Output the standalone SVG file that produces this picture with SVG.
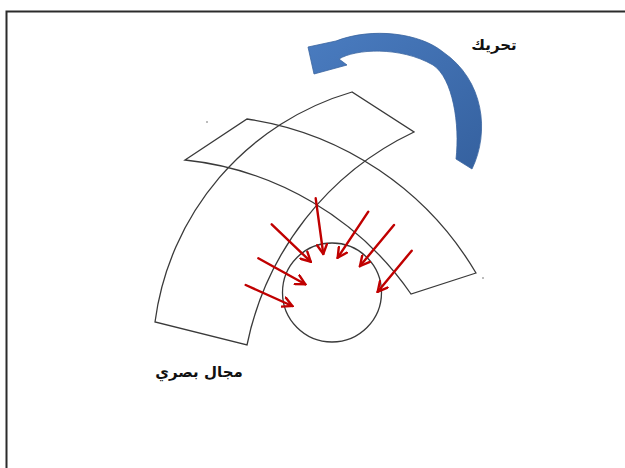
<svg xmlns="http://www.w3.org/2000/svg" width="625" height="468" viewBox="0 0 625 468">
<defs>
<style>
.frame{fill:none;stroke:#2b2b2b;stroke-width:2}
.band{fill:none;stroke:#3a3a3a;stroke-width:1.3;stroke-linejoin:miter}
.ray{fill:none;stroke:#c00000;stroke-width:2.4;stroke-linecap:round}
.lbl{font-family:"DejaVu Sans","Noto Sans",sans-serif;font-weight:bold;fill:#111;direction:rtl}
</style>
<marker id="ah" viewBox="0 0 12 12" refX="10.5" refY="6" markerWidth="12" markerHeight="12" markerUnits="userSpaceOnUse" orient="auto">
<path d="M1,1 L10.5,6 L1,11" fill="none" stroke="#c00000" stroke-width="2.4" stroke-linecap="round" stroke-linejoin="miter"/>
</marker>
<linearGradient id="bg" x1="0" y1="0" x2="1" y2="1">
<stop offset="0" stop-color="#4a7cc0"/>
<stop offset="1" stop-color="#35619f"/>
</linearGradient>
</defs>
<rect x="6.5" y="11.5" width="640" height="480" class="frame"/>
<g id="sector-left">
<path class="band" d="M352,92 A277,277 0 0 0 155,322 L247,345 A303,303 0 0 1 414,132 Z"/>
</g>
<g id="sector-right">
<path class="band" d="M247,119 A320,320 0 0 1 476,273 L411,294 A315,315 0 0 0 185,160 Z"/>
</g>
<g id="circle">
<circle cx="332" cy="292.5" r="49.5" class="band"/>
</g>
<g id="rotate-arrow">
<path d="M472,169 C490,132 484,80 443,52 C420,33 372,27 336,41 L308,47 L314,74 L347,65 L339,59 C355,49 400,46 433,65 C453,78 460,125 456,159 Z" fill="url(#bg)" stroke="#3a64a0" stroke-width="0.8" stroke-linejoin="miter"/>
</g>
<g id="connectors">
<line class="ray" x1="315.7" y1="198.3" x2="323.3" y2="254" marker-end="url(#ah)"/>
<line class="ray" x1="368.3" y1="211.7" x2="337.7" y2="257.7" marker-end="url(#ah)"/>
<line class="ray" x1="394" y1="225" x2="360" y2="266" marker-end="url(#ah)"/>
<line class="ray" x1="411.7" y1="250.7" x2="377.7" y2="291.7" marker-end="url(#ah)"/>
<line class="ray" x1="271.7" y1="224.3" x2="310.7" y2="261.7" marker-end="url(#ah)"/>
<line class="ray" x1="258.3" y1="258.3" x2="305.3" y2="284.3" marker-end="url(#ah)"/>
<line class="ray" x1="245.7" y1="285" x2="292.3" y2="306" marker-end="url(#ah)"/>
</g>
<circle cx="207" cy="122" r="0.8" fill="#666"/>
<circle cx="483" cy="278" r="0.8" fill="#666"/>
<g id="label-move">
<text class="lbl" x="494" y="50" font-size="15" text-anchor="middle">تحريك</text>
</g>
<g id="label-field">
<text class="lbl" x="199" y="377" font-size="15" text-anchor="middle">مجال بصري</text>
</g>
</svg>
